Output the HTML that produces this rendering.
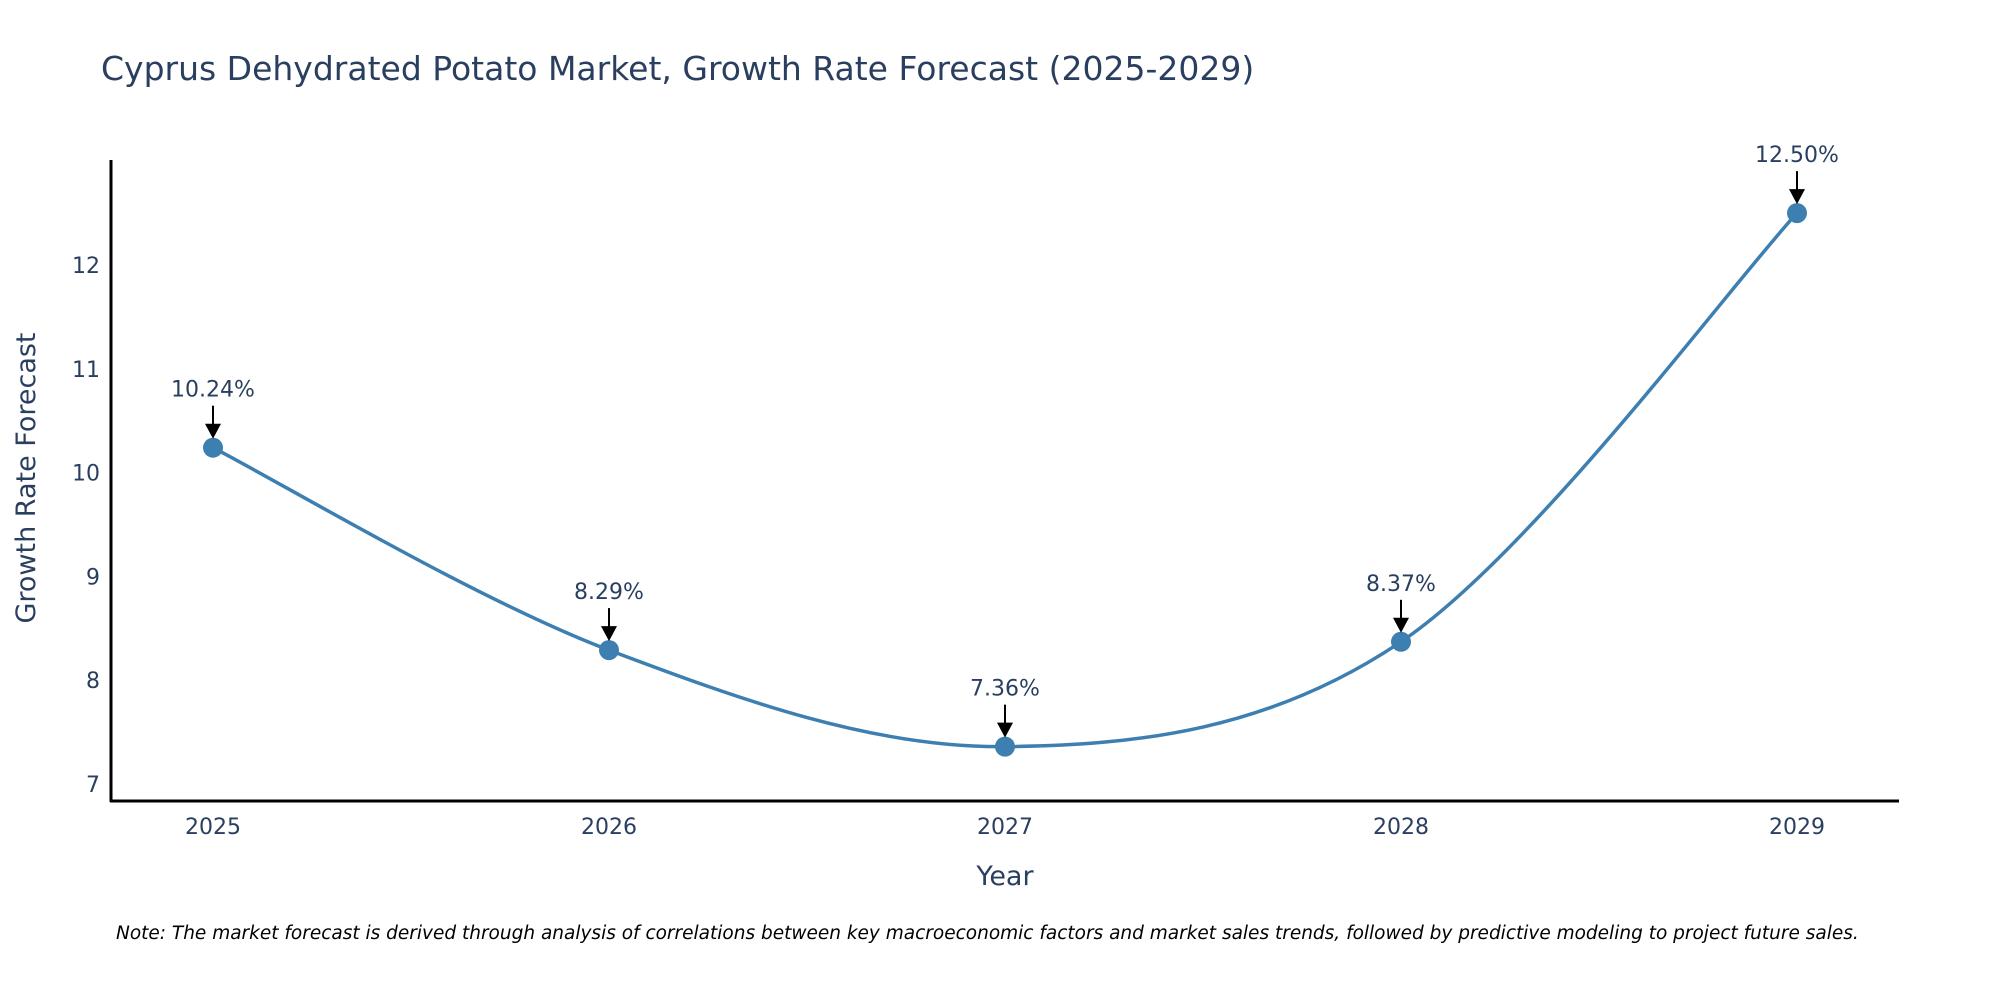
<!DOCTYPE html>
<html><head><meta charset="utf-8"><style>
body{margin:0;background:#fff;}
svg{display:block;font-family:"DejaVu Sans","Liberation Sans",sans-serif;}
</style></head><body>
<svg id="chart" width="2000" height="1000">
<text x="101" y="80" font-size="33" fill="#2a3f5f">Cyprus Dehydrated Potato Market, Growth Rate Forecast (2025-2029)</text>
<g id="yticks"></g>
<g id="xticks"></g>
<line x1="111" y1="160" x2="111" y2="802" stroke="#000" stroke-width="3"/>
<line x1="110" y1="801" x2="1899" y2="801" stroke="#000" stroke-width="3"/>
<path id="line" fill="none" stroke="#3d7fb1" stroke-width="3.5"/>
<g id="marks"></g>
<text x="1005" y="885" font-size="27" fill="#2a3f5f" text-anchor="middle">Year</text>
<text transform="translate(35,478) rotate(-90)" font-size="27" fill="#2a3f5f" text-anchor="middle">Growth Rate Forecast</text>
<text x="116" y="939" font-size="18.5" font-style="italic" fill="#000">Note: The market forecast is derived through analysis of correlations between key macroeconomic factors and market sales trends, followed by predictive modeling to project future sales.</text>
</svg>
<script>
const years=[2025,2026,2027,2028,2029];
const values=[10.24,8.29,7.36,8.37,12.50];
const labels=["10.24%","8.29%","7.36%","8.37%","12.50%"];
const yTicks=[7,8,9,10,11,12];
const NS="http://www.w3.org/2000/svg";
function xS(v){return 213+(v-2025)*396;}
function yS(v){return 784-(v-7)*103.8;}
function mk(t,a,p){const e=document.createElementNS(NS,t);for(const k in a)e.setAttribute(k,a[k]);p.appendChild(e);return e;}
const yt=document.getElementById('yticks');
yTicks.forEach(t=>{const e=mk('text',{x:100,y:yS(t)+8,'font-size':22,fill:'#2a3f5f','text-anchor':'end'},yt);e.textContent=t;

});
const xt=document.getElementById('xticks');
years.forEach(t=>{const e=mk('text',{x:xS(t),y:834,'font-size':22,fill:'#2a3f5f','text-anchor':'middle'},xt);e.textContent=t;

});
const pts=years.map((y,i)=>[xS(y),yS(values[i])]);
let d="M"+pts[0][0]+","+pts[0][1];
const s=0.5/3*2;
for(let i=0;i<pts.length-1;i++){const p0=pts[Math.max(0,i-1)],p1=pts[i],p2=pts[i+1],p3=pts[Math.min(pts.length-1,i+2)];
const c1=[p1[0]+(p2[0]-p0[0])*s/2,p1[1]+(p2[1]-p0[1])*s/2],c2=[p2[0]-(p3[0]-p1[0])*s/2,p2[1]-(p3[1]-p1[1])*s/2];
d+=" C"+c1+" "+c2+" "+p2;}
document.getElementById('line').setAttribute('d',d);
const g=document.getElementById('marks');
pts.forEach((p,i)=>{const c=mk('circle',{cx:p[0],cy:p[1],r:10,fill:'#3d7fb1'},g);


const l=mk('line',{x1:p[0],y1:p[1]-42,x2:p[0],y2:p[1]-22,stroke:'#000','stroke-width':2},g);


const h=mk('polygon',{points:`${p[0]-8},${p[1]-24} ${p[0]+8},${p[1]-24} ${p[0]},${p[1]-9}`,fill:'#000'},g);


const t=mk('text',{x:p[0],y:p[1]-51,'font-size':22,fill:'#2a3f5f','text-anchor':'middle'},g);t.textContent=labels[i];

});
</script>
</body></html>
